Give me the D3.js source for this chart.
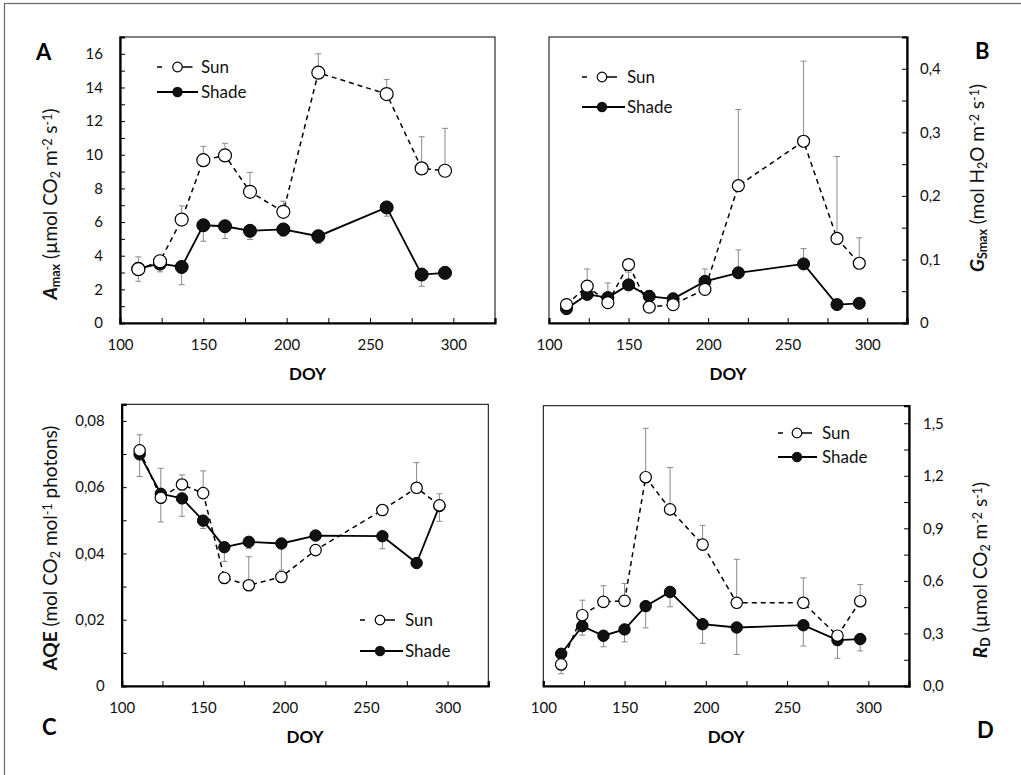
<!DOCTYPE html>
<html>
<head>
<meta charset="utf-8">
<script src="https://cdn.jsdelivr.net/npm/d3@7"></script>
<style>
  body { margin: 0; background: #fff; }
  svg { font-family: Lato, "Open Sans", sans-serif; }
</style>
</head>
<body>
<svg id="mySvg"></svg>
<script>
const width = 1021;
const height = 775;

// day of year for all samplings
const doy = [111, 124, 137, 150, 163, 178, 198, 219, 260, 281, 295];
const xTicks = [100, 150, 200, 250, 300];

// A - Amax
const amaxSun = [3.2, 3.67, 6.15, 9.68, 9.96, 7.8, 6.61, 14.88, 13.61, 9.19, 9.05];
const amaxSunErr = [0.73, 0.36, 0.81, 0.82, 0.72, 1.15, 0.63, 1.12, 0.87, 1.88, 2.52];
const amaxShade = [3.23, 3.53, 3.33, 5.81, 5.75, 5.48, 5.56, 5.16, 6.87, 2.88, 2.98];
const amaxShadeErr = [0.75, 0.49, 1.05, 0.95, 0.73, 0.52, 0.4, 0.44, 0.52, 0.7, 0];
const amaxTicks = [0, 2, 4, 6, 8, 10, 12, 14, 16];
const amaxTickLabels = ["0", "2", "4", "6", "8", "10", "12", "14", "16"];

// B - GSmax
const gsSun = [0.029, 0.058, 0.032, 0.092, 0.025, 0.029, 0.053, 0.216, 0.286, 0.133, 0.094];
const gsSunErr = [0, 0.027, 0, 0, 0, 0, 0.032, 0.12, 0.126, 0.129, 0.04];
const gsShade = [0.0225, 0.045, 0.04, 0.06, 0.042, 0.038, 0.0655, 0.079, 0.093, 0.029, 0.031];
const gsShadeErr = [0, 0, 0.023, 0.02, 0.009, 0.009, 0, 0.036, 0.024, 0, 0];
const gsTicks = [0, 0.1, 0.2, 0.3, 0.4];
const gsTickLabels = ["0", "0,1", "0,2", "0,3", "0,4"];

// C - AQE
const aqeSun = [0.0711, 0.0568, 0.0608, 0.0582, 0.0326, 0.0304, 0.0329, 0.041, 0.0531, 0.0598, 0.0545];
const aqeSunErr = [0.0047, 0.0089, 0.0029, 0.0067, 0, 0.0086, 0, 0, 0, 0.0076, 0.0035];
const aqeShade = [0.0699, 0.058, 0.0566, 0.0499, 0.0419, 0.0435, 0.043, 0.0454, 0.0452, 0.0371, 0.0543];
const aqeShadeErr = [0.0067, 0.0085, 0.0054, 0.0024, 0.0043, 0.002, 0.008, 0, 0.0038, 0, 0.0046];
const aqeTicks = [0, 0.02, 0.04, 0.06, 0.08];
const aqeTickLabels = ["0", "0,02", "0,04", "0,06", "0,08"];

// D - RD
const rdSun = [0.123, 0.404, 0.48, 0.486, 1.192, 1.008, 0.807, 0.475, 0.475, 0.287, 0.484];
const rdSunErr = [0, 0.086, 0.092, 0.099, 0.279, 0.239, 0.11, 0.248, 0.142, 0.02, 0.095];
const rdShade = [0.184, 0.342, 0.287, 0.323, 0.456, 0.537, 0.353, 0.334, 0.347, 0.262, 0.268];
const rdShadeErr = [0.114, 0.052, 0.063, 0.071, 0.124, 0.085, 0.11, 0.154, 0.119, 0.104, 0.068];
const rdTicks = [0, 0.3, 0.6, 0.9, 1.2, 1.5];
const rdTickLabels = ["0,0", "0,3", "0,6", "0,9", "1,2", "1,5"];

// panel layout (errors: sun always up, shade up or down per panel)
const panels = [
  { id: "A", sun: amaxSun, sunErr: amaxSunErr, shade: amaxShade, shadeErr: amaxShadeErr, shadeDir: -1,
    yMax: 17, minor: 1, ticks: amaxTicks, labels: amaxTickLabels, side: "left",
    box: [120, 495, 37, 323], pad: 17, r: 6.5, letter: [36, 60],
    ylab: { x: 57, y: 204, parts: [["A", "bi"], ["max", "sub"], [" (µmol CO", ""], ["2", "sub"], [" m", ""], ["-2", "sup"], [" s", ""], ["-1", "sup"], [")", ""]] },
    legend: { y: [67, 92], x0: 157, x1: 198, cx: 177.5, tx: 201 } },
  { id: "B", sun: gsSun, sunErr: gsSunErr, shade: gsShade, shadeErr: gsShadeErr, shadeDir: 1,
    yMax: 0.45, minor: 0.05, ticks: gsTicks, labels: gsTickLabels, side: "right",
    box: [549, 907, 37, 323], pad: 13, r: 6, letter: [975, 59],
    ylab: { x: 984, y: 178, parts: [["G", "bi"], ["Smax", "sub"], [" (mol H", ""], ["2", "sub"], ["O m", ""], ["-2", "sup"], [" s", ""], ["-1", "sup"], [")", ""]] },
    legend: { y: [77, 107], x0: 582, x1: 625, cx: 602, tx: 627 } },
  { id: "C", sun: aqeSun, sunErr: aqeSunErr, shade: aqeShade, shadeErr: aqeShadeErr, shadeDir: -1,
    yMax: 0.085, minor: 0.01, ticks: aqeTicks, labels: aqeTickLabels, side: "left",
    box: [121.7, 488.3, 404.3, 686], pad: 17, r: 5.7, letter: [42, 735],
    ylab: { x: 57, y: 548, parts: [["AQE", "b"], [" (mol CO", ""], ["2", "sub"], [" mol", ""], ["-1", "sup"], [" photons)", ""]] },
    legend: { y: [620, 651], x0: 360, x1: 403, cx: 380, tx: 405 } },
  { id: "D", sun: rdSun, sunErr: rdSunErr, shade: rdShade, shadeErr: rdShadeErr, shadeDir: -1,
    yMax: 1.6, minor: 0.15, ticks: rdTicks, labels: rdTickLabels, side: "right",
    box: [543.3, 909, 405.7, 686], pad: 14, r: 5.7, letter: [977, 738],
    ylab: { x: 987, y: 570, parts: [["R", "bi"], ["D", "sub"], [" (µmol CO", ""], ["2", "sub"], [" m", ""], ["-2", "sup"], [" s", ""], ["-1", "sup"], [")", ""]] },
    legend: { y: [433, 457], x0: 778, x1: 817, cx: 797, tx: 822 } }
];

const svg = d3.select("#mySvg").attr("width", width).attr("height", height);

// outer frame (only top and left visible in the original)
svg.append("rect")
  .attr("x", 4.5).attr("y", 3.5)
  .attr("width", width + 20).attr("height", height + 20)
  .attr("fill", "none").attr("stroke", "#666").attr("stroke-width", 1.2);

panels.forEach(drawPanel);

function drawPanel(p) {
  const [x0, x1, y0, y1] = p.box;
  const x = d3.scaleLinear().domain([100, 325]).range([x0, x1]);
  const y = d3.scaleLinear().domain([0, p.yMax]).range([y1, y0]);
  const g = svg.append("g");

  // plot frame
  g.append("rect")
    .attr("x", x0).attr("y", y0).attr("width", x1 - x0).attr("height", y1 - y0)
    .attr("fill", "none").attr("stroke", "#000").attr("stroke-width", 1);

  // x axis: inside ticks every 25, labels every 50
  const xMinor = d3.range(100, 326, 25);
  g.append("g").attr("transform", `translate(0,${y1})`)
    .call(d3.axisBottom(x).tickValues(xMinor).tickSize(-5).tickFormat(""))
    .call(a => a.select(".domain").attr("stroke-width", 2.2));
  g.append("g").attr("transform", `translate(0,${y1})`)
    .call(d3.axisBottom(x).tickValues(xTicks).tickSize(0).tickPadding(16).tickFormat(d3.format("d")))
    .call(a => a.select(".domain").remove())
    .selectAll("text").attr("font-size", 15).attr("fill", "#111").attr("font-family", "Lato");

  // y axis
  const axisX = p.side === "left" ? x0 : x1;
  const mk = p.side === "left" ? d3.axisLeft : d3.axisRight;
  const yMinor = d3.range(0, Math.round(p.yMax / p.minor) + 1).map(i => i * p.minor).filter(v => v <= p.yMax + 1e-9);
  g.append("g").attr("transform", `translate(${axisX},0)`)
    .call(mk(y).tickValues(yMinor).tickSize(-5).tickFormat(""))
    .call(a => a.select(".domain").attr("stroke-width", 2.2));
  g.append("g").attr("transform", `translate(${axisX},0)`)
    .call(mk(y).tickValues(p.ticks).tickSize(0).tickPadding(p.pad).tickFormat((d, i) => p.labels[i]))
    .call(a => a.select(".domain").remove())
    .selectAll("text").attr("font-size", 15).attr("fill", "#111").attr("font-family", "Lato");

  // DOY label
  g.append("text")
    .attr("x", (x0 + x1) / 2).attr("y", y1 + 57)
    .attr("text-anchor", "middle").attr("font-size", 17).attr("font-weight", "bold")
    .text("DOY");

  // panel letter
  svg.append("text")
    .attr("x", p.letter[0]).attr("y", p.letter[1])
    .attr("font-size", 22).attr("font-weight", "bold").attr("font-family", "Lato")
    .text(p.id);

  // y label
  const yl = g.append("text")
    .attr("transform", `translate(${p.ylab.x},${p.ylab.y}) rotate(-90)`)
    .attr("text-anchor", "middle").attr("font-size", 19).attr("fill", "#111");
  p.ylab.parts.forEach(([t, s]) => {
    const ts = yl.append("tspan").text(t);
    if (s === "bi") ts.attr("font-weight", "bold").attr("font-style", "italic");
    if (s === "b") ts.attr("font-weight", "bold");
    if (s === "sub") ts.attr("font-size", 12.5).attr("baseline-shift", "-25%").attr("font-weight", p.ylab.parts[0][1] === "bi" && t !== "2" ? "bold" : null);
    if (s === "sup") ts.attr("font-size", 12.5).attr("baseline-shift", "40%");
  });

  const line = d3.line().x((d, i) => x(doy[i])).y(d => y(d));

  // lines
  g.append("path").datum(p.sun).attr("d", line)
    .attr("fill", "none").attr("stroke", "#000").attr("stroke-width", 1.5).attr("stroke-dasharray", "5,4");
  g.append("path").datum(p.shade).attr("d", line)
    .attr("fill", "none").attr("stroke", "#000").attr("stroke-width", 1.8);

  // error bars
  function errBars(vals, errs, dir) {
    const eb = g.append("g").attr("stroke", "#8a8a8a").attr("stroke-width", 1);
    vals.forEach((v, i) => {
      if (!errs[i]) return;
      const xi = x(doy[i]);
      const ye = y(v + dir * errs[i]);
      eb.append("line").attr("x1", xi).attr("x2", xi).attr("y1", y(v)).attr("y2", ye);
      eb.append("line").attr("x1", xi - 3).attr("x2", xi + 3).attr("y1", ye).attr("y2", ye);
    });
  }
  errBars(p.sun, p.sunErr, 1);
  errBars(p.shade, p.shadeErr, p.shadeDir);

  // markers
  g.append("g").selectAll("circle").data(p.shade).join("circle")
    .attr("cx", (d, i) => x(doy[i])).attr("cy", d => y(d)).attr("r", p.r)
    .attr("fill", "#111").attr("stroke", "#000").attr("stroke-width", 1);
  g.append("g").selectAll("circle").data(p.sun).join("circle")
    .attr("cx", (d, i) => x(doy[i])).attr("cy", d => y(d)).attr("r", p.r)
    .attr("fill", "#fff").attr("stroke", "#000").attr("stroke-width", 1.2);

  // legend: sun key is "- O-", shade key is a solid line through a dot
  const L = p.legend;
  const lg = g.append("g").attr("font-size", 17).attr("fill", "#111");
  [[L.x0, L.x0 + 5], [L.cx + 5, L.cx + 15]].forEach(([a, b]) => {
    lg.append("line").attr("x1", a).attr("x2", b).attr("y1", L.y[0]).attr("y2", L.y[0])
      .attr("stroke", "#000").attr("stroke-width", 1.5);
  });
  lg.append("circle").attr("cx", L.cx).attr("cy", L.y[0]).attr("r", 4.8)
    .attr("fill", "#fff").attr("stroke", "#000").attr("stroke-width", 1.2);
  lg.append("text").attr("x", L.tx).attr("y", L.y[0]).attr("dy", "0.35em").text("Sun");
  lg.append("line").attr("x1", L.x0).attr("x2", L.x1).attr("y1", L.y[1]).attr("y2", L.y[1])
    .attr("stroke", "#000").attr("stroke-width", 1.8);
  lg.append("circle").attr("cx", L.cx).attr("cy", L.y[1]).attr("r", 5.2).attr("fill", "#111");
  lg.append("text").attr("x", L.tx).attr("y", L.y[1]).attr("dy", "0.35em").text("Shade");
}
</script>
</body>
</html>
